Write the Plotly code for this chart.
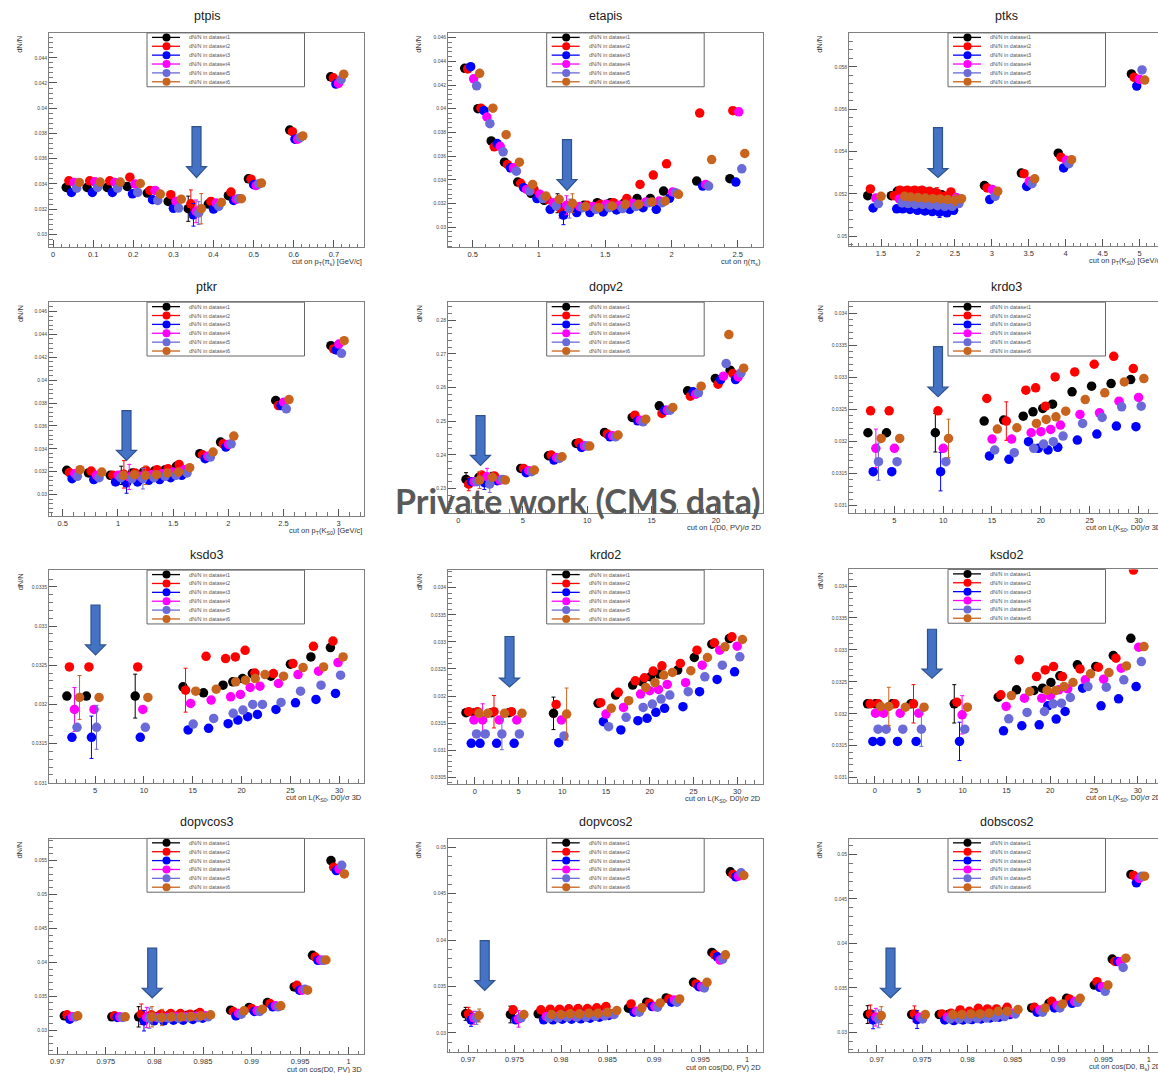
import plotly.graph_objects as go

W, H = 1158, 1073

DATASETS = ['dataset1', 'dataset2', 'dataset3', 'dataset4', 'dataset5', 'dataset6']
COLORS = ['#000000', '#ff0000', '#0000ff', '#ff00ff', '#6a6ad8', '#c8641e']
LEGEND_TEXT = ['dN/N in ' + d for d in DATASETS]

# ---- data: cut values (x of dataset1) and dN/N per dataset ----
ptpis_cut = [0.033, 0.085, 0.135, 0.185, 0.235, 0.287, 0.337, 0.387, 0.437, 0.487, 0.59, 0.692]
ptpis_val = [
    [0.03372, 0.03372, 0.03372, 0.0338, 0.03327, 0.03261, 0.03203, 0.0324, 0.03306, 0.0344, 0.03827, 0.04249],
    [0.03424, 0.03424, 0.03424, 0.03453, 0.03348, 0.03314, 0.03242, 0.03261, 0.03335, 0.03437, 0.03814, 0.04241],
    [0.03332, 0.03332, 0.03332, 0.03321, 0.03274, 0.03206, 0.03155, 0.032, 0.03269, 0.03393, 0.03754, 0.04191],
    [0.03411, 0.03416, 0.03411, 0.03398, 0.03348, 0.03261, 0.03182, 0.03248, 0.03279, 0.03387, 0.03754, 0.04196],
    [0.03366, 0.03372, 0.03366, 0.03332, 0.03269, 0.03208, 0.03169, 0.03221, 0.03282, 0.034, 0.03767, 0.04228],
    [0.03411, 0.03414, 0.03414, 0.03403, 0.03319, 0.03279, 0.03203, 0.03253, 0.03282, 0.03406, 0.0378, 0.0427],
]
ptpis_err = [(0, 6, 0.001), (1, 6, 0.0011), (2, 6, 0.0009), (3, 6, 0.0009), (4, 6, 0.0009), (5, 6, 0.0012)]

etapis_cut = [0.44, 0.54, 0.64, 0.74, 0.84, 0.94, 1.04, 1.14, 1.24, 1.34, 1.44, 1.54, 1.64, 1.74, 1.84, 1.94, 2.19, 2.44]
etapis_val = [
    [0.04341, 0.04, 0.03728, 0.03549, 0.03381, 0.03286, 0.03227, 0.03202, 0.03185, 0.03185, 0.03207, 0.03207, 0.03202, 0.03241, 0.03241, 0.03305, 0.03389, 0.03409],
    [0.04336, 0.04005, 0.03678, 0.03529, 0.0337, 0.03319, 0.03235, 0.03157, 0.03179, 0.03185, 0.03193, 0.03207, 0.03241, 0.03361, 0.0344, 0.03535, 0.03963, 0.03983],
    [0.04355, 0.03983, 0.03706, 0.03501, 0.03333, 0.03241, 0.03151, 0.03101, 0.03123, 0.03123, 0.03129, 0.03146, 0.03151, 0.03165, 0.03151, 0.03244, 0.03347, 0.03381],
    [0.04252, 0.0393, 0.03683, 0.03501, 0.03319, 0.03277, 0.03207, 0.03185, 0.03174, 0.03174, 0.03193, 0.03185, 0.03202, 0.03213, 0.03221, 0.03297, 0.03361, 0.03974],
    [0.04193, 0.03874, 0.03636, 0.03473, 0.03305, 0.03241, 0.03179, 0.03157, 0.03165, 0.03151, 0.03165, 0.03157, 0.03174, 0.03207, 0.03207, 0.03291, 0.03347, 0.03493],
    [0.04299, 0.04005, 0.03781, 0.03549, 0.03361, 0.03263, 0.03235, 0.03202, 0.03174, 0.03165, 0.03179, 0.03193, 0.03193, 0.03213, 0.03221, 0.03277, 0.03571, 0.03622],
]
etapis_err = [(0, 7, 0.0008), (1, 7, 0.0008), (2, 7, 0.0008), (3, 7, 0.0008), (4, 7, 0.0008), (5, 7, 0.0008)]

ptks_cut = [1.32, 1.64, 1.72, 1.82, 1.92, 2.02, 2.12, 2.22, 2.32, 2.41, 2.9, 3.4, 3.9, 4.89]
ptks_val = [
    [0.05191, 0.05191, 0.05212, 0.05212, 0.05212, 0.05212, 0.05207, 0.05204, 0.05196, 0.05185, 0.05239, 0.05298, 0.05392, 0.05766],
    [0.05223, 0.05191, 0.05217, 0.05217, 0.05217, 0.05217, 0.05212, 0.05204, 0.05188, 0.05209, 0.05228, 0.05295, 0.05373, 0.0575],
    [0.05133, 0.05129, 0.05129, 0.05126, 0.05122, 0.05119, 0.05116, 0.05113, 0.0511, 0.05122, 0.05173, 0.05235, 0.05322, 0.05709],
    [0.0518, 0.05176, 0.05176, 0.05173, 0.05173, 0.0517, 0.0517, 0.05165, 0.05163, 0.05182, 0.0522, 0.05259, 0.05358, 0.05741],
    [0.05154, 0.05157, 0.05154, 0.0515, 0.0515, 0.05147, 0.05144, 0.05141, 0.05141, 0.05154, 0.05188, 0.05248, 0.05342, 0.05785],
    [0.05188, 0.05188, 0.05185, 0.05182, 0.0518, 0.05177, 0.05176, 0.05173, 0.0517, 0.05177, 0.05212, 0.05271, 0.05361, 0.05737],
]
ptks_err = [(1, 7, 0.00025), (2, 7, 0.00025), (3, 7, 0.0002), (5, 8, 0.00025)]

ptkr_cut = [0.536, 0.733, 0.93, 1.03, 1.13, 1.23, 1.33, 1.43, 1.53, 1.742, 1.93, 2.43, 2.93]
ptkr_val = [
    [0.03212, 0.03189, 0.03168, 0.03168, 0.03189, 0.03197, 0.03206, 0.03218, 0.03247, 0.03357, 0.03459, 0.03822, 0.04301],
    [0.03192, 0.03206, 0.03168, 0.03177, 0.03189, 0.03212, 0.03218, 0.03226, 0.03264, 0.03348, 0.03444, 0.03778, 0.04272],
    [0.03139, 0.03131, 0.0311, 0.03102, 0.0311, 0.03125, 0.03131, 0.03148, 0.03168, 0.03314, 0.03415, 0.03778, 0.04263],
    [0.03183, 0.03168, 0.03168, 0.03154, 0.0316, 0.03174, 0.03183, 0.03197, 0.03218, 0.03334, 0.03438, 0.03807, 0.04315],
    [0.0316, 0.03148, 0.03148, 0.03139, 0.03139, 0.03148, 0.0316, 0.03168, 0.03189, 0.03328, 0.03444, 0.03749, 0.04234],
    [0.03218, 0.03197, 0.03168, 0.03174, 0.03168, 0.03174, 0.03189, 0.03197, 0.03235, 0.03372, 0.03511, 0.0383, 0.04344],
]
ptkr_err = [(0, 3, 0.0008), (1, 3, 0.0012), (2, 3, 0.0009), (3, 3, 0.0011), (4, 4, 0.0009), (5, 4, 0.0008)]

dopv2_cut = [0.6, 1.6, 2.6, 4.85, 7.0, 9.15, 11.35, 13.5, 15.6, 17.8, 19.95, 21.1]
dopv2_val = [
    [0.23267, 0.23327, 0.23327, 0.23594, 0.2397, 0.24337, 0.24663, 0.25109, 0.25455, 0.25901, 0.26267, 0.26515],
    [0.23129, 0.23396, 0.23366, 0.23594, 0.2399, 0.24356, 0.24614, 0.25178, 0.25228, 0.25742, 0.26099, 0.26416],
    [0.23198, 0.23168, 0.23228, 0.23465, 0.23842, 0.24218, 0.24535, 0.2501, 0.25327, 0.25871, 0.26237, 0.26237],
    [0.23198, 0.23347, 0.23248, 0.23525, 0.23911, 0.24267, 0.24564, 0.2503, 0.25327, 0.25802, 0.26336, 0.26317],
    [0.23198, 0.23129, 0.23267, 0.23495, 0.23891, 0.24257, 0.24535, 0.2498, 0.25327, 0.25841, 0.26713, 0.26435],
    [0.23248, 0.23327, 0.23248, 0.23545, 0.2394, 0.24257, 0.24584, 0.25059, 0.25406, 0.26039, 0.27574, 0.26574],
]
dopv2_err = [(0, 0, 0.002), (1, 0, 0.002), (5, 0, 0.0025), (2, 1, 0.002), (3, 1, 0.0025), (4, 1, 0.0025), (0, 2, 0.0015)]

krdo3_cut = [2.3, 4.2, 9.2, 14.2, 16.2, 18.2, 19.2, 20.2, 21.2, 23.2, 25.2, 27.2, 29.2]
krdo3_val = [
    [0.032134, 0.032134, 0.032134, 0.032316, 0.032331, 0.032393, 0.032461, 0.032513, 0.03258, 0.032772, 0.03286, 0.032901, 0.032963],
    [0.032476, 0.032476, 0.032476, 0.032668, 0.032316, 0.032797, 0.032834, 0.032549, 0.033005, 0.033082, 0.033202, 0.033326, 0.033134],
    [0.031528, 0.031528, 0.031528, 0.031772, 0.03172, 0.031995, 0.031891, 0.031865, 0.031907, 0.03202, 0.032114, 0.032238, 0.032228],
    [0.031891, 0.031891, 0.031891, 0.032036, 0.032036, 0.032134, 0.03215, 0.032186, 0.032254, 0.032419, 0.032445, 0.032627, 0.032684],
    [0.031684, 0.031684, 0.031684, 0.031865, 0.031824, 0.031891, 0.031958, 0.031995, 0.032083, 0.032279, 0.032373, 0.032538, 0.032549],
    [0.032046, 0.032046, 0.032046, 0.032191, 0.032212, 0.032279, 0.032342, 0.032383, 0.032471, 0.032652, 0.032756, 0.032927, 0.032979],
]
krdo3_err = [(3, 0, 0.0003), (4, 0, 0.00029), (0, 2, 0.0003), (2, 2, 0.0003), (5, 2, 0.0003), (1, 4, 0.0003)]

ksdo3_cut = [2.1, 4.1, 9.1, 14.0, 16.1, 18.1, 19.1, 20.1, 21.1, 23.0, 25.0, 27.1, 29.1]
ksdo3_val = [
    [0.032106, 0.032106, 0.032106, 0.032225, 0.032148, 0.032246, 0.032288, 0.03233, 0.032394, 0.03236, 0.032513, 0.032606, 0.032725],
    [0.032479, 0.032479, 0.032479, 0.032182, 0.032614, 0.032585, 0.032606, 0.032691, 0.0324, 0.032394, 0.032521, 0.032741, 0.032809],
    [0.031581, 0.031581, 0.031581, 0.031674, 0.031695, 0.031754, 0.031801, 0.031843, 0.031873, 0.031936, 0.032021, 0.032064, 0.03214],
    [0.031936, 0.031936, 0.031936, 0.032013, 0.032055, 0.032097, 0.032127, 0.032216, 0.032233, 0.032267, 0.032381, 0.032424, 0.032534],
    [0.031708, 0.031708, 0.031708, 0.03175, 0.031822, 0.031886, 0.031928, 0.032, 0.032, 0.032025, 0.032169, 0.032246, 0.032373],
    [0.032089, 0.032089, 0.032089, 0.032169, 0.032195, 0.032288, 0.032309, 0.03233, 0.032381, 0.03236, 0.03247, 0.032479, 0.032606],
]
ksdo3_err = [(3, 0, 0.00028), (5, 0, 0.00028), (2, 1, 0.00027), (4, 1, 0.00028), (0, 2, 0.00028), (1, 3, 0.00028)]

krdo2_cut = [-1.0, 0.0, 1.9, 3.9, 9.0, 14.1, 16.1, 18.05, 19.1, 20.1, 21.1, 23.2, 25.1, 27.1, 29.1]
krdo2_val = [
    [0.031693, 0.031693, 0.031693, 0.031693, 0.031681, 0.031865, 0.032018, 0.032203, 0.032264, 0.032356, 0.032405, 0.032479, 0.032712, 0.032958, 0.033062],
    [0.031711, 0.031711, 0.031711, 0.031711, 0.031846, 0.031877, 0.032068, 0.032282, 0.032338, 0.032461, 0.032559, 0.032602, 0.032847, 0.032982, 0.033093],
    [0.031128, 0.031128, 0.031128, 0.031128, 0.03114, 0.031527, 0.031374, 0.031546, 0.031589, 0.031699, 0.031773, 0.031804, 0.03208, 0.032307, 0.032448],
    [0.031558, 0.031558, 0.031558, 0.031558, 0.031558, 0.031668, 0.031791, 0.032037, 0.032098, 0.032123, 0.032215, 0.032246, 0.032571, 0.032847, 0.032921],
    [0.0313, 0.0313, 0.0313, 0.0313, 0.031263, 0.031435, 0.031607, 0.031791, 0.031853, 0.031945, 0.032018, 0.03208, 0.032356, 0.032571, 0.032725],
    [0.031681, 0.031681, 0.031681, 0.031681, 0.031668, 0.031773, 0.031914, 0.03216, 0.032246, 0.032387, 0.032436, 0.032467, 0.032712, 0.032909, 0.033044],
]
krdo2_err = [(3, 1, 0.0003), (1, 2, 0.0003), (4, 2, 0.00029), (0, 4, 0.0003), (5, 4, 0.00048)]

ksdo2_cut = [-0.84, 0.08, 1.98, 4.1, 9.05, 14.07, 16.16, 18.14, 19.13, 20.08, 21.1, 23.1, 25.2, 27.2, 29.2]
ksdo2_val = [
    [0.032156, 0.032156, 0.032156, 0.032156, 0.032156, 0.03226, 0.032375, 0.032365, 0.032401, 0.03249, 0.032594, 0.032766, 0.03274, 0.032911, 0.033182],
    [0.032156, 0.032156, 0.032156, 0.032156, 0.032182, 0.032297, 0.032844, 0.032583, 0.032687, 0.03274, 0.032583, 0.032703, 0.03273, 0.03287, 0.03425],
    [0.031568, 0.031568, 0.031568, 0.031568, 0.031568, 0.031734, 0.031813, 0.031828, 0.032125, 0.031917, 0.032036, 0.032401, 0.032125, 0.032234, 0.032427],
    [0.03201, 0.03201, 0.03201, 0.03201, 0.031984, 0.032115, 0.032245, 0.032245, 0.032281, 0.032375, 0.032391, 0.032531, 0.032542, 0.032714, 0.033042],
    [0.03176, 0.03176, 0.03176, 0.03176, 0.03176, 0.031922, 0.032021, 0.032036, 0.032156, 0.032167, 0.032255, 0.032427, 0.032417, 0.032531, 0.032818],
    [0.032115, 0.032115, 0.032104, 0.032104, 0.032104, 0.032286, 0.032349, 0.032365, 0.032365, 0.032427, 0.03249, 0.032625, 0.032646, 0.03275, 0.033052],
]
ksdo2_err = [(5, 1, 0.0003), (1, 3, 0.0003), (4, 3, 0.00027), (0, 4, 0.0003), (3, 4, 0.0003), (2, 4, 0.0003)]

dopvcos3_cut = [0.97072, 0.97561, 0.97837, 0.9794, 0.9804, 0.9814, 0.9824, 0.9834, 0.9844, 0.98784, 0.98974, 0.99163, 0.99439, 0.99628, 0.99818]
dopvcos3_val = [
    [0.03211, 0.031961, 0.031961, 0.03201, 0.032059, 0.03211, 0.03211, 0.032206, 0.032353, 0.032941, 0.033333, 0.034069, 0.036373, 0.04103, 0.055],
    [0.032255, 0.03211, 0.032353, 0.032255, 0.032353, 0.032451, 0.032451, 0.032353, 0.032598, 0.032745, 0.033186, 0.033922, 0.036618, 0.040784, 0.05402],
    [0.031618, 0.031863, 0.031373, 0.031373, 0.031373, 0.031471, 0.031471, 0.031569, 0.031765, 0.03211, 0.032745, 0.033431, 0.035882, 0.040294, 0.053529],
    [0.031961, 0.031961, 0.031863, 0.031863, 0.031863, 0.031961, 0.031961, 0.032059, 0.03211, 0.032451, 0.032843, 0.033578, 0.035882, 0.040343, 0.053775],
    [0.031961, 0.031863, 0.031765, 0.031765, 0.031765, 0.031765, 0.031863, 0.031863, 0.031961, 0.032353, 0.032745, 0.033431, 0.036029, 0.040294, 0.054314],
    [0.03211, 0.031961, 0.031961, 0.031863, 0.031961, 0.031961, 0.03201, 0.03211, 0.032255, 0.032843, 0.033088, 0.033578, 0.035882, 0.040343, 0.053039],
]
dopvcos3_err = [(0, 2, 0.0015), (1, 2, 0.0015), (2, 2, 0.0015), (3, 2, 0.0015), (4, 2, 0.0015), (5, 2, 0.0015), (5, 3, 0.0012)]

dopvcos2_cut = [0.96975, 0.97456, 0.97755, 0.97855, 0.97955, 0.98055, 0.98155, 0.98255, 0.98355, 0.98455, 0.98725, 0.98922, 0.99131, 0.99425, 0.99623, 0.99821]
dopvcos2_val = [
    [0.03204, 0.031968, 0.03204, 0.032111, 0.032111, 0.032111, 0.032183, 0.032218, 0.032326, 0.032469, 0.032648, 0.033292, 0.033757, 0.035439, 0.038659, 0.047353],
    [0.03204, 0.032469, 0.032469, 0.03254, 0.03254, 0.032576, 0.032612, 0.032612, 0.032684, 0.032827, 0.033113, 0.033184, 0.03365, 0.03526, 0.038408, 0.047067],
    [0.031395, 0.031395, 0.031395, 0.031395, 0.031467, 0.031467, 0.031503, 0.031574, 0.031682, 0.031861, 0.032218, 0.032827, 0.033292, 0.034973, 0.038194, 0.046817],
    [0.03161, 0.031503, 0.031753, 0.031753, 0.031825, 0.031825, 0.031861, 0.031896, 0.031968, 0.03204, 0.032326, 0.032827, 0.033542, 0.034973, 0.037836, 0.046888],
    [0.03161, 0.03161, 0.03161, 0.03161, 0.031682, 0.031682, 0.031682, 0.031753, 0.031825, 0.031968, 0.032218, 0.032755, 0.033292, 0.03483, 0.037943, 0.047246],
    [0.031861, 0.031968, 0.031968, 0.031968, 0.03204, 0.03204, 0.032111, 0.032111, 0.032218, 0.032397, 0.032684, 0.03322, 0.03365, 0.035439, 0.038408, 0.04696],
]
dopvcos2_err = [(0, 0, 0.0007), (1, 0, 0.0007), (2, 0, 0.0007), (3, 0, 0.0007), (4, 0, 0.0007), (5, 0, 0.0007), (0, 1, 0.0009), (3, 1, 0.0009)]

dobscos2_cut = [0.96901, 0.97386, 0.9769, 0.9779, 0.9789, 0.9799, 0.9809, 0.9819, 0.9829, 0.98407, 0.98708, 0.98899, 0.99093, 0.99398, 0.99596, 0.99802]
dobscos2_val = [
    [0.031981, 0.031981, 0.031981, 0.031981, 0.032056, 0.032056, 0.032131, 0.032168, 0.032243, 0.032355, 0.032729, 0.033252, 0.033813, 0.035308, 0.038224, 0.047756],
    [0.032056, 0.032056, 0.032056, 0.032131, 0.032504, 0.032355, 0.032691, 0.032617, 0.032617, 0.032804, 0.032804, 0.033476, 0.033738, 0.035682, 0.037962, 0.047643],
    [0.031383, 0.03142, 0.031383, 0.031308, 0.031383, 0.03142, 0.031495, 0.031607, 0.031682, 0.031981, 0.032243, 0.032729, 0.033252, 0.035046, 0.037962, 0.046821],
    [0.031682, 0.031682, 0.031682, 0.031682, 0.031757, 0.031757, 0.031832, 0.031869, 0.031981, 0.032131, 0.032504, 0.03299, 0.033439, 0.035121, 0.037925, 0.047307],
    [0.031495, 0.031495, 0.031495, 0.031495, 0.031495, 0.031533, 0.031607, 0.031682, 0.031757, 0.032056, 0.032243, 0.032729, 0.033364, 0.034598, 0.037289, 0.047569],
    [0.031869, 0.031981, 0.031981, 0.031981, 0.032056, 0.032056, 0.032131, 0.032355, 0.032355, 0.032542, 0.032729, 0.033177, 0.033813, 0.035308, 0.038336, 0.047569],
]
dobscos2_err = [(0, 0, 0.001), (1, 0, 0.001), (2, 0, 0.001), (3, 0, 0.001), (4, 0, 0.001), (5, 0, 0.001), (1, 1, 0.0009), (2, 1, 0.001)]

# ---- panel layout (pixel boxes: left, top, bottom; arrows: cx, top, head, tip) ----
PANELS = [
    dict(title='ptpis', xtitle='cut on p<sub>T</sub>(π<sub>s</sub>) [GeV/c]', cut=ptpis_cut, val=ptpis_val, err=ptpis_err,
         step=0.0065, box=(49, 33, 248), xr=[-0.01, 0.775], yr=[0.02897, 0.04597], xd=0.1, yd=0.002,
         arrow=(196.5, 127, 167, 178), leg=(147, 33), ty=16),
    dict(title='etapis', xtitle='cut on η(π<sub>s</sub>)', cut=etapis_cut, val=etapis_val, err=etapis_err,
         step=0.0225, box=(448, 33, 248), xr=[0.314, 2.69], yr=[0.0283, 0.0464], xd=0.5, yd=0.002,
         arrow=(567, 140, 180, 191), leg=(546.7, 33), ty=16),
    dict(title='ptks', xtitle='cut on p<sub>T</sub>(K<sub>S0</sub>) [GeV/c]', cut=ptks_cut, val=ptks_val, err=ptks_err,
         step=0.036, box=(849, 33, 247), xr=[1.066, 5.25], yr=[0.04952, 0.0596], xd=0.5, yd=0.002,
         arrow=(938, 128, 169, 178), leg=(948, 33), ty=16),
    dict(title='ptkr', xtitle='cut on p<sub>T</sub>(K<sub>S0</sub>) [GeV/c]', cut=ptkr_cut, val=ptkr_val, err=ptkr_err,
         step=0.024, box=(49, 303, 517), xr=[0.375, 3.23], yr=[0.02817, 0.04681], xd=0.5, yd=0.002,
         arrow=(126.5, 411.7, 451.7, 461.7), leg=(147, 303), ty=288),
    dict(title='dopv2', xtitle='cut on L(D0, PV)/σ 2D', cut=dopv2_cut, val=dopv2_val, err=dopv2_err,
         step=0.21, box=(448, 303, 514), xr=[-0.8, 23.65], yr=[0.2228, 0.2854], xd=5, yd=0.01,
         arrow=(480.5, 416.7, 456.7, 466.7), leg=(546.7, 303), ty=288),
    dict(title='krdo3', xtitle='cut on L(K<sub>S0</sub>, D0)/σ 3D', cut=krdo3_cut, val=krdo3_val, err=krdo3_err,
         step=0.27, box=(849, 303, 514), xr=[0.36, 32.0], yr=[0.03089, 0.03417], xd=5, yd=0.0005,
         arrow=(938, 347.7, 388.3, 397.7), leg=(948, 303), ty=288),
    dict(title='ksdo3', xtitle='cut on L(K<sub>S0</sub>, D0)/σ 3D', cut=ksdo3_cut, val=ksdo3_val, err=ksdo3_err,
         step=0.26, box=(49, 572, 785), xr=[0.27, 32.54], yr=[0.031, 0.03371], xd=5, yd=0.0005,
         arrow=(95.5, 606.7, 646.7, 656.7), leg=(147, 571.7), ty=557),
    dict(title='krdo2', xtitle='cut on L(K<sub>S0</sub>, D0)/σ 2D', cut=krdo2_cut, val=krdo2_val, err=krdo2_err,
         step=0.3, box=(448, 572, 786), xr=[-3.06, 32.95], yr=[0.03038, 0.03432], xd=5, yd=0.0005,
         arrow=(509.5, 638.3, 680, 689), leg=(546.7, 571.7), ty=557),
    dict(title='ksdo2', xtitle='cut on L(K<sub>S0</sub>, D0)/σ 2D', cut=ksdo2_cut, val=ksdo2_val, err=ksdo2_err,
         step=0.3, box=(849, 571, 785), xr=[-2.96, 32.3], yr=[0.03092, 0.03426], xd=5, yd=0.0005,
         arrow=(932, 631, 671, 680), leg=(948, 571), ty=557),
    dict(title='dopvcos3', xtitle='cut on cos(D0, PV) 3D', cut=dopvcos3_cut, val=dopvcos3_val, err=dopvcos3_err,
         step=0.000276, box=(49, 841, 1057), xr=[0.96914, 1.00158], yr=[0.02647, 0.05824], xd=0.005, yd=0.005,
         arrow=(152.2, 950.7, 991, 1000.7), leg=(147, 840.7), ty=824),
    dict(title='dopvcos2', xtitle='cut on cos(D0, PV) 2D', cut=dopvcos2_cut, val=dopvcos2_val, err=dopvcos2_err,
         step=0.00029, box=(448, 841, 1055), xr=[0.96785, 1.00172], yr=[0.02792, 0.05093], xd=0.005, yd=0.005,
         arrow=(484.7, 943.3, 983.3, 993.3), leg=(546.7, 840.7), ty=824),
    dict(title='dobscos2', xtitle='cut on cos(D0, B<sub>s</sub>) 2D', cut=dobscos2_cut, val=dobscos2_val, err=dobscos2_err,
         step=0.0003, box=(849, 841, 1055), xr=[0.96695, 1.001], yr=[0.02776, 0.05179], xd=0.005, yd=0.005,
         arrow=(890.5, 950.7, 991, 1000.7), leg=(948, 840.7), ty=824),
]

PANEL_W = 315
FONT = 'Liberation Sans, Arial, sans-serif'


def px(x, y):
    """Pixel position -> paper coordinates."""
    return x / W, 1 - y / H


def text(s, x, y, size, color='#333', xanchor='center', **kw):
    """Paper-anchored annotation placed at pixel (x, y)."""
    fx, fy = px(x, y)
    return dict(text=s, x=fx, y=fy, xref='paper', yref='paper', showarrow=False,
                xanchor=xanchor, yanchor='middle',
                font=dict(family=kw.pop('family', FONT), size=size, color=color), **kw)


def arrow_path(cx, top, head, tip, sw=4.5, hw=10):
    pts = [(cx - sw, top), (cx + sw, top), (cx + sw, head), (cx + hw, head),
           (cx, tip), (cx - hw, head), (cx - sw, head)]
    p = [px(x, y) for x, y in pts]
    return 'M ' + ' L '.join(f'{a:.5f},{b:.5f}' for a, b in p) + ' Z'


fig = go.Figure()
shapes, annotations, axes = [], [], {}

for n, p in enumerate(PANELS, start=1):
    l, t, b = p['box']
    r_full = l + PANEL_W
    r = min(r_full, W)
    clipped = r_full > W

    axes[f'xaxis{n}'] = dict(
        domain=[l / W, r / W], range=p['xr'], anchor=f'y{n}',
        tick0=0, dtick=p['xd'], ticks='inside', ticklen=7, tickcolor='#555',
        minor=dict(ticks='inside', ticklen=3.5, tick0=0, dtick=p['xd'] / 5, tickcolor='#777'),
        showline=True, linecolor='#7f7f7f', linewidth=1, mirror=True,
        showgrid=False, zeroline=False,
        tickfont=dict(family=FONT, size=7.5, color='#333'),
    )
    axes[f'yaxis{n}'] = dict(
        domain=[1 - b / H, 1 - t / H], range=p['yr'], anchor=f'x{n}',
        tick0=0, dtick=p['yd'], ticks='inside', ticklen=8, tickcolor='#555',
        minor=dict(ticks='inside', ticklen=4, tick0=0, dtick=p['yd'] / 5, tickcolor='#777'),
        showline=True, linecolor='#7f7f7f', linewidth=1, mirror=not clipped,
        showgrid=False, zeroline=False,
        tickfont=dict(family=FONT, size=5, color='#444'),
    )

    for s in range(6):
        errs = [None] * len(p['cut'])
        for ss, i, e in p['err']:
            if ss == s:
                errs[i] = e
        fig.add_trace(go.Scatter(
            x=[c + s * p['step'] for c in p['cut']],
            y=p['val'][s],
            mode='markers',
            marker=dict(color=COLORS[s], size=9.5, line=dict(width=0)),
            error_y=dict(type='data', array=errs, visible=True, color=COLORS[s], thickness=1, width=2),
            xaxis=f'x{n}', yaxis=f'y{n}',
            name=LEGEND_TEXT[s], showlegend=False,
        ))

    # panel title, axis titles
    annotations.append(text(p['title'], l + PANEL_W / 2, p['ty'], 12.5, '#1a1a1a'))
    annotations.append(text(p['xtitle'], r_full, b + 15, 7.5, xanchor='right'))
    annotations.append(text('dN/N', l - 29, t + 12, 7.5, textangle=-90))

    # ROOT-style legend box
    lx, ly = p['leg']
    x0, y0 = px(lx, ly)
    x1, y1 = px(lx + 157.5, ly + 54)
    shapes.append(dict(type='rect', xref='paper', yref='paper', x0=x0, y0=y1, x1=x1, y1=y0,
                       line=dict(color='#666', width=1), fillcolor='white'))
    for s in range(6):
        ry = ly + 4.5 + 8.9 * s
        a0, yy = px(lx + 5, ry)
        a1, _ = px(lx + 33, ry)
        shapes.append(dict(type='line', xref='paper', yref='paper', x0=a0, x1=a1, y0=yy, y1=yy,
                           line=dict(color=COLORS[s], width=1.3)))
        c0, cy0 = px(lx + 15.5, ry - 4)
        c1, cy1 = px(lx + 23.5, ry + 4)
        shapes.append(dict(type='circle', xref='paper', yref='paper', x0=c0, x1=c1, y0=cy1, y1=cy0,
                           fillcolor=COLORS[s], line=dict(width=0)))
        annotations.append(text(LEGEND_TEXT[s], lx + 40, ry, 5.5, '#555', xanchor='left'))

    # blue arrow marking the chosen cut
    shapes.append(dict(type='path', xref='paper', yref='paper', path=arrow_path(*p['arrow']),
                       fillcolor='#4472c4', line=dict(color='#2f528f', width=1.2)))

annotations.append(text('<b>Private work (CMS data)</b>', 578, 502, 34, '#595959',
                        family='Lato, Open Sans, sans-serif'))

fig.update_layout(
    width=W, height=H,
    margin=dict(l=0, r=0, t=0, b=0),
    paper_bgcolor='white', plot_bgcolor='white',
    showlegend=False,
    shapes=shapes, annotations=annotations,
    **axes,
)

fig.write_html('out.html', config={'displayModeBar': False},
               post_script="document.body.style.margin='0';")
